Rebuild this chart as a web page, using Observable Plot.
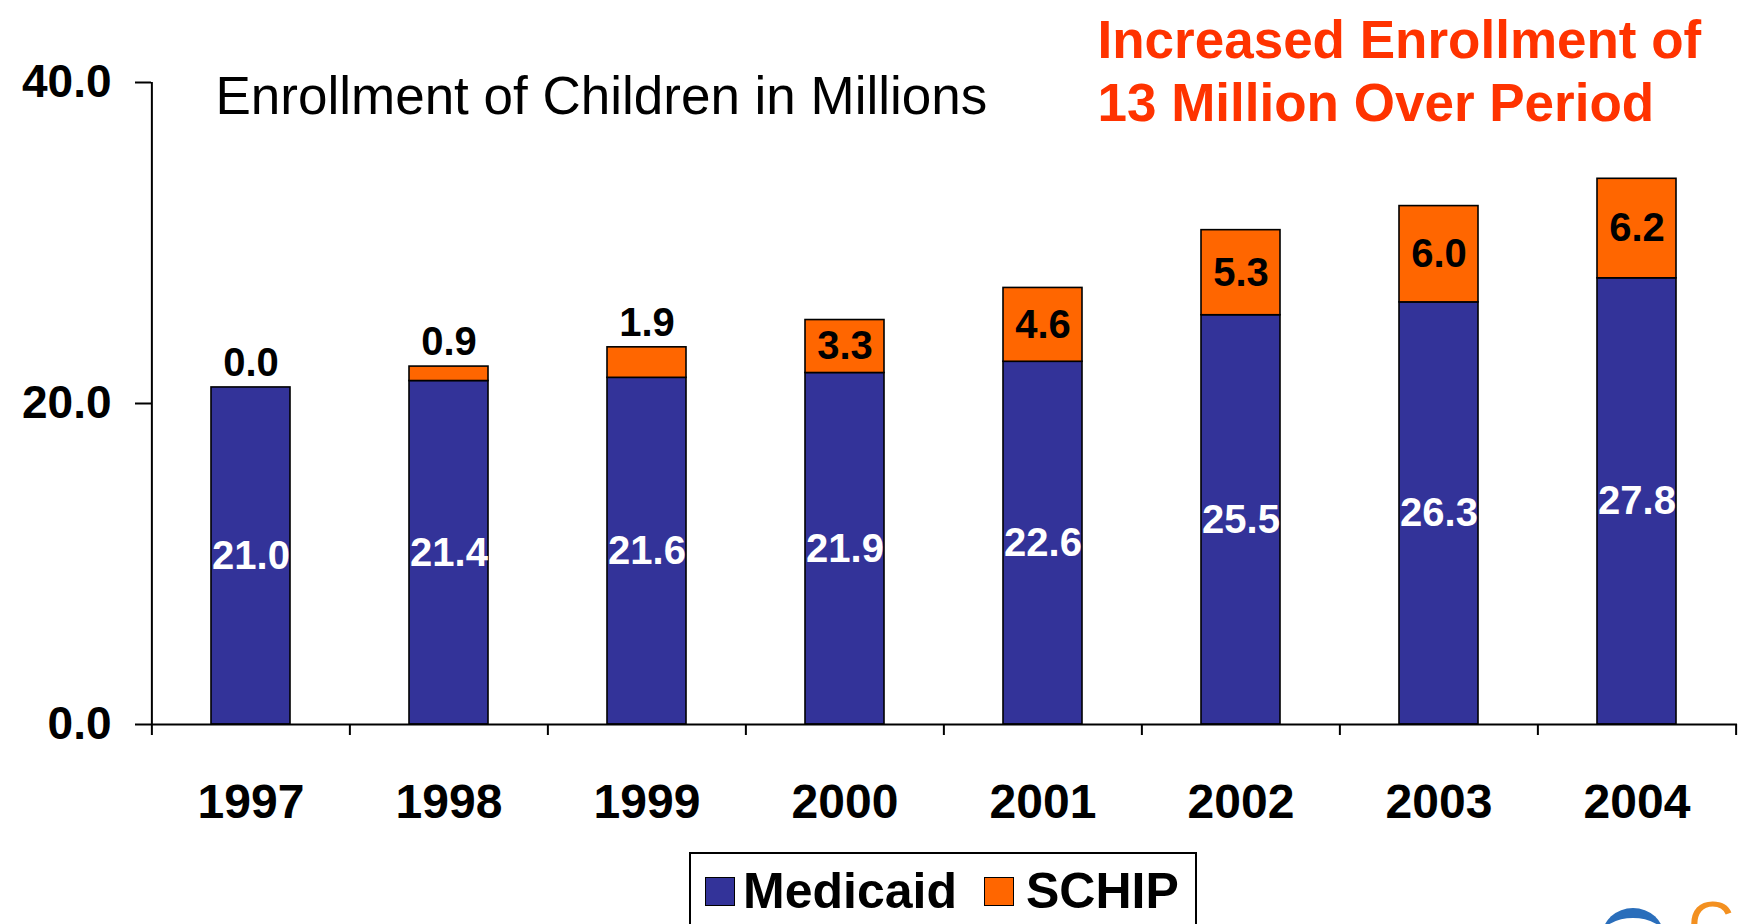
<!DOCTYPE html>
<html>
<head>
<meta charset="utf-8">
<script src="https://cdn.jsdelivr.net/npm/d3@7"></script>
<script src="https://cdn.jsdelivr.net/npm/@observablehq/plot@0.6"></script>
<style>
  html, body { margin: 0; padding: 0; background: #fff; overflow: hidden; width: 1742px; height: 924px; }
  #chart { position: absolute; left: 0; top: 0; }
  #legend { position: absolute; left: 689px; top: 852px; width: 508px; height: 110px; border: 2px solid #000; box-sizing: border-box; background: #fff; font-family: "Liberation Sans", Arial, sans-serif; }
  .sw { position: absolute; width: 30px; height: 29px; box-sizing: border-box; border: 1.5px solid #000; }
  .lt { position: absolute; font-size: 50px; font-weight: bold; line-height: 50px; color: #000; white-space: nowrap; }
  #logo-arc { position: absolute; left: 1602px; top: 908px; width: 62px; height: 56px; border-top: 10px solid #2a6ebb; border-radius: 50%; box-sizing: border-box; }
  #logo-c { position: absolute; left: 1688px; top: 893px; font: 64px "Liberation Sans", Arial, sans-serif; color: #f39020; line-height: 64px; }
</style>
</head>
<body>
<div id="chart"></div>
<div id="legend"></div>
<div id="logo-arc"></div>
<div id="logo-c">C</div>
<script>
const years = ["1997", "1998", "1999", "2000", "2001", "2002", "2003", "2004"];
const medicaid = [21.0, 21.4, 21.6, 21.9, 22.6, 25.5, 26.3, 27.8];
const schip = [0.0, 0.9, 1.9, 3.3, 4.6, 5.3, 6.0, 6.2];
const seriesNames = ["Medicaid", "SCHIP"];
const seriesColors = ["#333399", "#FF6600"];
const yTicks = [0, 20, 40];
const titleText = "Enrollment of Children in Millions";
const noteText = "Increased Enrollment of\n13 Million Over Period";

const rows = years.flatMap((yr, i) => [
  {year: yr, series: seriesNames[0], value: medicaid[i]},
  {year: yr, series: seriesNames[1], value: schip[i]}
]);
const fmt = d3.format(".1f");

const W = 1742, H = 840, mL = 151, mR = 5, mT = 82, mB = 116;
const step = (W - mL - mR) / years.length;
const font = "'Liberation Sans', Arial, sans-serif";
const noteColor = "#FF3300";

const chart = Plot.plot({
  width: W,
  height: H,
  marginLeft: mL,
  marginRight: mR,
  marginTop: mT,
  marginBottom: mB,
  style: {fontFamily: font, background: "white", color: "black", overflow: "visible"},
  x: {domain: years, paddingInner: 0.6, paddingOuter: 0.3, axis: null},
  y: {domain: [yTicks[0], yTicks[yTicks.length - 1]], axis: null},
  color: {domain: seriesNames, range: seriesColors},
  marks: [
    Plot.barY(rows, {x: "year", y: "value", fill: "series", stroke: "black", strokeWidth: 1.6}),
    Plot.ruleY([0], {stroke: "black", strokeWidth: 2}),
    Plot.ruleX([years[0]], {x: d => d, y1: yTicks[0], y2: yTicks[yTicks.length - 1], dx: -step / 2, stroke: "black", strokeWidth: 2}),
    Plot.axisY({ticks: yTicks, tickFormat: fmt, tickSize: 16, tickPadding: 24, fontSize: 46, fontWeight: "bold", strokeWidth: 2, label: null}),
    Plot.axisX({tickSize: 11, text: null, dx: -step / 2, strokeWidth: 2, label: null}),
    Plot.axisX({ticks: [years[years.length - 1]], tickSize: 11, text: null, dx: step / 2, strokeWidth: 2, label: null}),
    Plot.axisX({tickSize: 0, tickPadding: 59, fontSize: 48, fontWeight: "bold", label: null}),
    Plot.text(rows, Plot.stackY({x: "year", y: "value", text: d => d.series === seriesNames[0] ? fmt(d.value) : null, fill: "white", fontSize: 40, fontWeight: "bold"})),
    Plot.text(rows, Plot.stackY({x: "year", y: "value", text: d => d.series === seriesNames[1] && d.value >= 3 ? fmt(d.value) : null, fill: "black", fontSize: 40, fontWeight: "bold"})),
    Plot.text(rows, Plot.stackY2({x: "year", y: "value", text: d => d.series === seriesNames[1] && d.value < 3 ? fmt(d.value) : null, fill: "black", fontSize: 40, fontWeight: "bold", dy: -24})),
    Plot.text([titleText], {frameAnchor: "top-left", dx: 64, dy: -6, lineAnchor: "top", textAnchor: "start", fontSize: 53, fill: "black"}),
    Plot.text([noteText], {frameAnchor: "top-left", dx: 946, dy: -70, lineAnchor: "top", textAnchor: "start", fontSize: 53, lineHeight: 1.2, fontWeight: "bold", fill: noteColor})
  ]
});
document.getElementById("chart").appendChild(chart);

// legend
const legend = document.getElementById("legend");
const swLeft = [14, 293], txLeft = [52, 335];
seriesNames.forEach((name, i) => {
  const sw = document.createElement("div");
  sw.className = "sw";
  sw.style.left = swLeft[i] + "px";
  sw.style.top = "23px";
  sw.style.background = seriesColors[i];
  legend.appendChild(sw);
  const t = document.createElement("div");
  t.className = "lt";
  t.style.left = txLeft[i] + "px";
  t.style.top = "12px";
  t.textContent = name;
  legend.appendChild(t);
});
</script>
</body>
</html>
